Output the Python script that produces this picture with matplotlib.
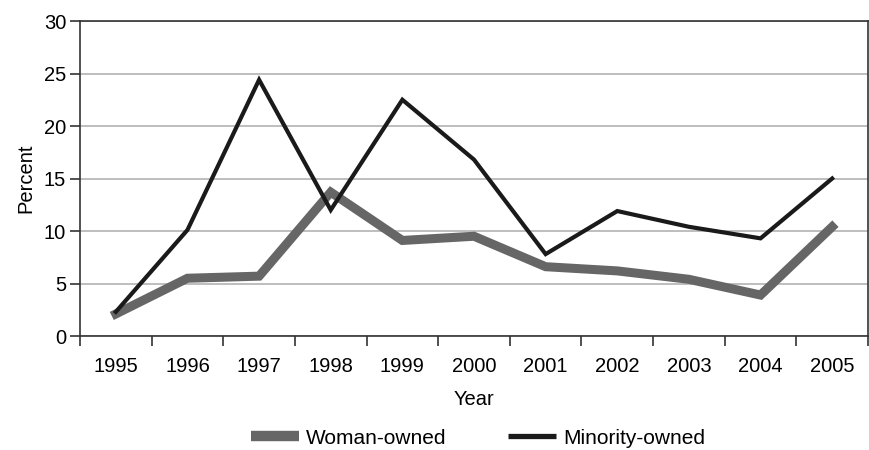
import numpy as np
import matplotlib.pyplot as plt
from matplotlib.ticker import FixedLocator

plt.rcParams['font.family'] = ['Liberation Sans', 'DejaVu Sans']

years = ['1995', '1996', '1997', '1998', '1999', '2000',
         '2001', '2002', '2003', '2004', '2005']
woman_owned = [2.1, 5.5, 5.7, 13.7, 9.1, 9.5, 6.6, 6.2, 5.4, 3.9, 10.4]
minority_owned = [2.3, 10.1, 24.4, 12.0, 22.5, 16.8, 7.8, 11.9, 10.4, 9.3, 15.0]

fs = 14.5

fig = plt.figure(figsize=(8.7, 4.5), dpi=100)
ax = fig.add_axes([80 / 870, 1 - 336 / 450, 788 / 870, 315 / 450])

x = np.arange(len(years))
ax.plot(x, woman_owned, color='#666666', lw=6.5, solid_joinstyle='miter',
        label='Woman-owned', zorder=3)
ax.plot(x, minority_owned, color='#1a1a1a', lw=3, solid_joinstyle='miter',
        label='Minority-owned', zorder=4)

ax.set_xlim(-0.5, len(years) - 0.5)
ax.set_ylim(0, 30)
ax.set_yticks(np.arange(0, 31, 5))
ax.yaxis.grid(True, color='#b3b3b3', lw=1.2)
ax.set_axisbelow(True)

# category labels centred, tick marks on the boundaries
ax.set_xticks(x)
ax.set_xticklabels(years)
ax.xaxis.set_minor_locator(FixedLocator(np.arange(-0.5, len(years), 1)))
ax.tick_params(axis='x', which='major', length=0, pad=15, labelsize=fs)
ax.tick_params(axis='x', which='minor', length=7, width=1.2, color='#333333')
ax.tick_params(axis='y', length=7, width=1.2, color='#333333', labelsize=fs, pad=3)

for side in ['left', 'bottom', 'top', 'right']:
    ax.spines[side].set_color('#333333')
    ax.spines[side].set_linewidth(1.2)

ax.set_xlabel('Year', fontsize=fs, labelpad=10)
ax.set_ylabel('Percent', fontsize=fs, labelpad=6)

leg = fig.legend(loc='center', bbox_to_anchor=(478 / 870, 1 - 438 / 450), ncol=2,
                 frameon=False, fontsize=15, handlelength=2.3, columnspacing=3.0,
                 handletextpad=0.33)
for h, w in zip(leg.legend_handles, [7.5, 3.8]):
    h.set_linewidth(w)
    h.set_solid_capstyle('butt')

fig.savefig('out.png', dpi=100)
